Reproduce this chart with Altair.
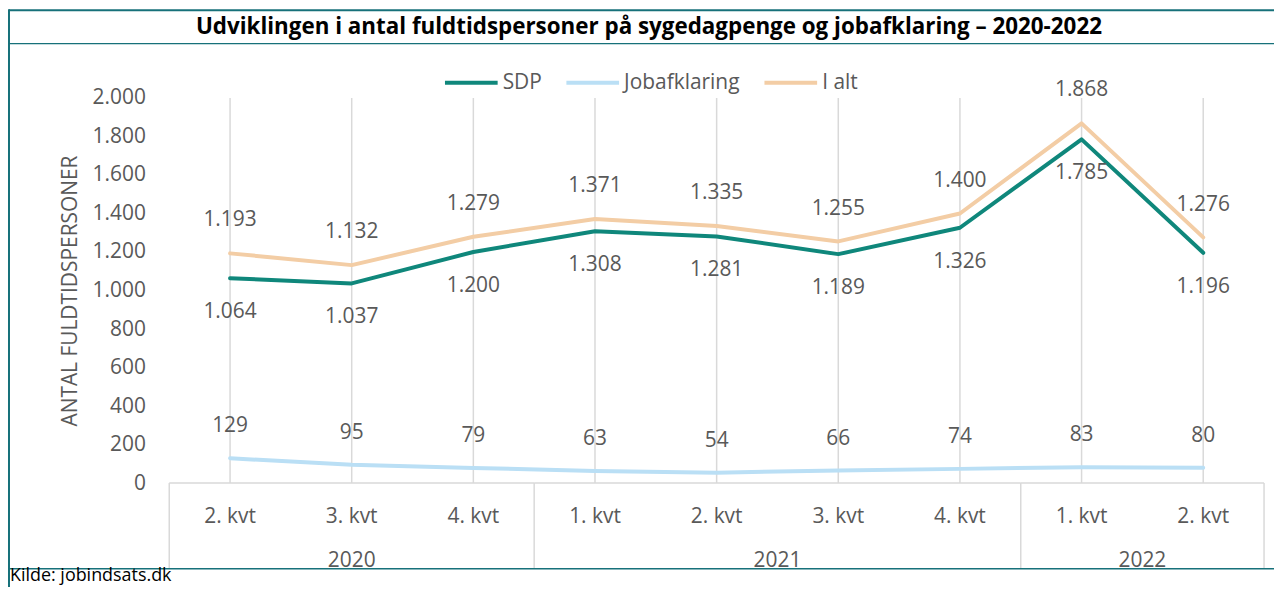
import altair as alt
import pandas as pd

# ---------------- data ----------------
quarters = ["2. kvt", "3. kvt", "4. kvt", "1. kvt", "2. kvt", "3. kvt", "4. kvt", "1. kvt", "2. kvt"]
years = ["2020", "2020", "2020", "2021", "2021", "2021", "2021", "2022", "2022"]
sdp = [1064, 1037, 1200, 1308, 1281, 1189, 1326, 1785, 1196]
jobafklaring = [129, 95, 79, 63, 54, 66, 74, 83, 80]
i_alt = [1193, 1132, 1279, 1371, 1335, 1255, 1400, 1868, 1276]
series_names = ["SDP", "Jobafklaring", "I alt"]
series_colors = ["#0F877B", "#BADFF5", "#F3CDA5"]
y_ticks = [0, 200, 400, 600, 800, 1000, 1200, 1400, 1600, 1800, 2000]
title_text = "Udviklingen i antal fuldtidspersoner på sygedagpenge og jobafklaring – 2020-2022"
y_title = "ANTAL FULDTIDSPERSONER"
source_text = "Kilde: jobindsats.dk"

# ---------------- tables ----------------
rows = []
for name, vals in zip(series_names, [sdp, jobafklaring, i_alt]):
    for i, (q, yr, v) in enumerate(zip(quarters, years, vals)):
        rows.append(dict(idx=i, quarter=q, year=yr, series=name, value=v))
df = pd.DataFrame(rows)
cats = pd.DataFrame(dict(idx=list(range(len(quarters))), quarter=quarters, year=years))
groups = cats.groupby("year").idx.agg(["min", "max"]).reset_index()
groups["lo"] = groups["min"] - 0.5
groups["hi"] = groups["max"] + 0.5
groups["mid"] = (groups["lo"] + groups["hi"]) / 2
bounds = pd.DataFrame(dict(b=sorted(set(groups["lo"]) | set(groups["hi"]))))
one = pd.DataFrame({"a": [0]})

W, H = 1100, 387
FONT = "Open Sans"
GREY = "#595959"
TEAL = "#17717A"
GRID = "#D9D9D9"

xs = alt.Scale(domain=[-0.5, len(quarters) - 0.5], nice=False, zero=False)
ys = alt.Scale(domain=[0, 2000], nice=False)
X = alt.X("idx:Q", scale=xs, axis=None)
Y_AXIS = alt.Axis(
    values=y_ticks, labelExpr="replace(format(datum.value, ','), ',', '.')",
    labelOverlap=False, tickCount=len(y_ticks),
    labelFont=FONT, labelFontSize=21, labelColor=GREY, labelPadding=24,
    domain=False, ticks=False, grid=False,
    title=y_title, titleFont=FONT, titleFontSize=21, titleFontWeight="normal",
    titleColor=GREY, titlePadding=12,
)
Y = alt.Y("value:Q", scale=ys, axis=Y_AXIS)

# gridlines at categories
grid = alt.Chart(cats).mark_rule(color=GRID, strokeWidth=1.5).encode(
    x=X, y=alt.value(0), y2=alt.value(H)
)
# axis baseline
base_line = alt.Chart(groups).mark_rule(color=GRID, strokeWidth=1.5).encode(
    x=alt.X("lo:Q", scale=xs, axis=None), x2="hi:Q", y=alt.value(H)
)
# group separators
seps = alt.Chart(bounds).mark_rule(color=GRID, strokeWidth=1.5).encode(
    x=alt.X("b:Q", scale=xs, axis=None), y=alt.value(H), y2=alt.value(473)
)
q_labels = alt.Chart(cats).mark_text(font=FONT, fontSize=21, color=GREY, baseline="middle").encode(
    x=X, y=alt.value(421), text="quarter:N"
)
y_labels = alt.Chart(groups).mark_text(font=FONT, fontSize=21, color=GREY, baseline="middle").encode(
    x=alt.X("mid:Q", scale=xs, axis=None), y=alt.value(465), text="year:N"
)

lines = alt.Chart(df).mark_line(strokeWidth=4, strokeCap="round", strokeJoin="round").encode(
    x=X,
    y=Y,
    color=alt.Color(
        "series:N",
        scale=alt.Scale(domain=series_names, range=series_colors),
        sort=series_names,
        legend=alt.Legend(
            orient="none", legendX=275, legendY=-44, direction="horizontal", title=None,
            symbolType="stroke", symbolStrokeWidth=4, symbolSize=2800,
            labelFont=FONT, labelFontSize=21, labelColor=GREY, labelOffset=3,
            columnPadding=16,
        ),
    ),
    detail="series:N",
)

def labels(name, dy):
    return alt.Chart(df).transform_filter(alt.datum.series == name).transform_calculate(
        lab="replace(format(datum.value, ','), ',', '.')"
    ).mark_text(font=FONT, fontSize=21, color=GREY, dy=dy, baseline="middle").encode(
        x=X, y=Y, text="lab:N"
    )

lab_total = labels("I alt", -33)
lab_sdp = labels("SDP", 34)
lab_job = labels("Jobafklaring", -32)

# frame and texts
def hrule(y, w):
    return alt.Chart(one).mark_rule(color=TEAL, strokeWidth=w).encode(
        x=alt.value(-161), x2=alt.value(1110), y=alt.value(y)
    )

frame_top = hrule(-88, 2)
frame_title = hrule(-54.5, 1.2)
frame_bottom = hrule(473, 1.5)
frame_left = alt.Chart(one).mark_rule(color=TEAL, strokeWidth=2).encode(
    x=alt.value(-161), y=alt.value(-89), y2=alt.value(495)
)
title = alt.Chart(one).mark_text(font=FONT, fontSize=22.5, fontWeight="bold", color="#000000",
                                  baseline="middle").encode(
    x=alt.value(482), y=alt.value(-71), text=alt.value(title_text)
)
source = alt.Chart(one).mark_text(font=FONT, fontSize=18, color="#000000", align="left",
                                   baseline="alphabetic").encode(
    x=alt.value(-160), y=alt.value(485), text=alt.value(source_text)
)

chart = alt.layer(
    grid, base_line, seps, q_labels, y_labels, lines, lab_total, lab_sdp, lab_job,
    frame_top, frame_title, frame_bottom, frame_left, title, source,
).properties(
    width=W, height=H,
    padding={"left": 162, "top": 89, "right": 10, "bottom": 103},
    autosize=alt.AutoSizeParams(type="none"),
).configure_view(stroke=None)

chart.save("out.html", embed_options={"renderer": "svg", "actions": False})
